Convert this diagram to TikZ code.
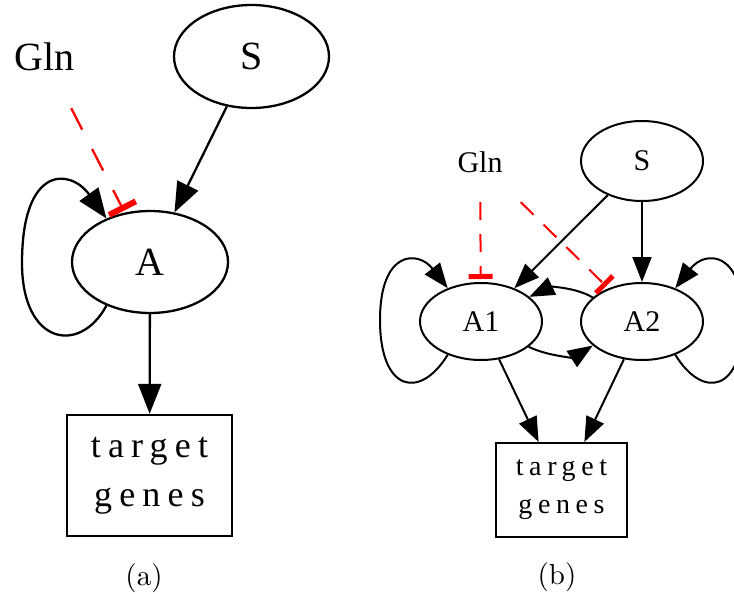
\documentclass[tikz,border=0pt]{standalone}
\usepackage{fontspec}
\usepackage{tikz}
\usetikzlibrary{arrows.meta,shapes.geometric}
\newfontfamily\gvfont{Liberation Serif}
\newfontfamily\gvwide[LetterSpace=20]{Liberation Serif}
\newcommand{\panelcap}[1]{\scalebox{2.9}{\fontsize{10}{12}\selectfont #1}}

\begin{document}
\begin{tikzpicture}[x=1pt, y=-1pt,
  species/.style={ellipse, draw, line width=2.3pt, inner sep=0pt},
  freetext/.style={rectangle, inner sep=0pt},
  genebox/.style={rectangle, draw, line width=2.3pt, inner sep=0pt, align=center},
  act/.style={line width=2.3pt, -{Triangle[length=30pt,width=23pt]}},
  inh/.style={red, line width=2.3pt, dash pattern=on 24pt off 22pt,
              -{Bar[width=30pt,line width=6pt]}, shorten >=2pt},
  actb/.style={line width=2pt, -{Triangle[length=25pt,width=19pt]}},
  inhb/.style={red, line width=2pt, dash pattern=on 18pt off 14pt,
               -{Bar[width=24pt,line width=5pt]}, shorten >=3pt},
  caption/.style={inner sep=0pt},
]
\useasboundingbox (0,0) rectangle (734,594);

% panel (a)
\begin{scope}[every node/.append style={font=\gvfont\fontsize{40}{48}\selectfont}]
\node[species, minimum width=155, minimum height=103] (Sa) at (251.5, 56.5) {S};
\node[freetext, minimum width=100, minimum height=102] (Ga) at (45, 57) {Gln};
\node[species, minimum width=156, minimum height=102] (Aa) at (150, 262) {A};
\node[genebox, minimum width=165, minimum height=121,
      font=\gvwide\fontsize{36}{49}\selectfont] (Ta) at (149.5, 475.5) {target\\genes};
\end{scope}
\coordinate (loopa) at (22, 263);

\draw[act] (Sa) -- (Aa);
\draw[act] (Aa) -- (Ta);
\draw[inh] (Ga) -- (Aa);
\draw[act] (Aa.225) .. controls (80, 355) and (22, 345) .. (loopa)
                    .. controls (22, 165) and (70, 168) .. (Aa.135); % self loop

\node[caption] (capa) at (144, 578) {\panelcap{(a)}};

% panel (b)
\begin{scope}[every node/.append style={font=\gvfont\fontsize{30}{36}\selectfont}]
\node[species, line width=2pt, minimum width=122, minimum height=80] (Sb) at (642, 161) {S};
\node[freetext, minimum width=100, minimum height=80] (Gb) at (480, 162) {Gln};
\node[species, line width=2pt, minimum width=122, minimum height=77] (A1) at (481, 321.5) {A1};
\node[species, line width=2pt, minimum width=122, minimum height=77] (A2) at (642, 321.5) {A2};
\node[genebox, line width=2pt, minimum width=131, minimum height=94,
      font=\gvwide\fontsize{28}{38}\selectfont] (Tb) at (561.5, 490) {target\\genes};
\end{scope}
\coordinate (loopb1) at (380, 320);
\coordinate (loopb2) at (743, 320);

\draw[actb] (Sb) -- (A1);
\draw[actb] (Sb) -- (A2);
\draw[inhb] (Gb) -- (A1);
\draw[inhb] (Gb) -- (A2);
\draw[actb] (A1) -- (Tb);
\draw[actb] (A2) -- (Tb);
\draw[actb] (A2.154) .. controls (575, 287) and (550, 287) .. (A1.27);
\draw[actb] (A1.-28) .. controls (550, 357) and (575, 357) .. (A2.206);
\draw[actb] (A1.225) .. controls (420, 400) and (380, 392) .. (loopb1)
                     .. controls (380, 250) and (418, 250) .. (A1.135);
\draw[actb] (A2.-45) .. controls (703, 400) and (743, 392) .. (loopb2)
                     .. controls (743, 250) and (705, 250) .. (A2.45);

\node[caption] (capb) at (557, 577) {\panelcap{(b)}};
\end{tikzpicture}
\end{document}
